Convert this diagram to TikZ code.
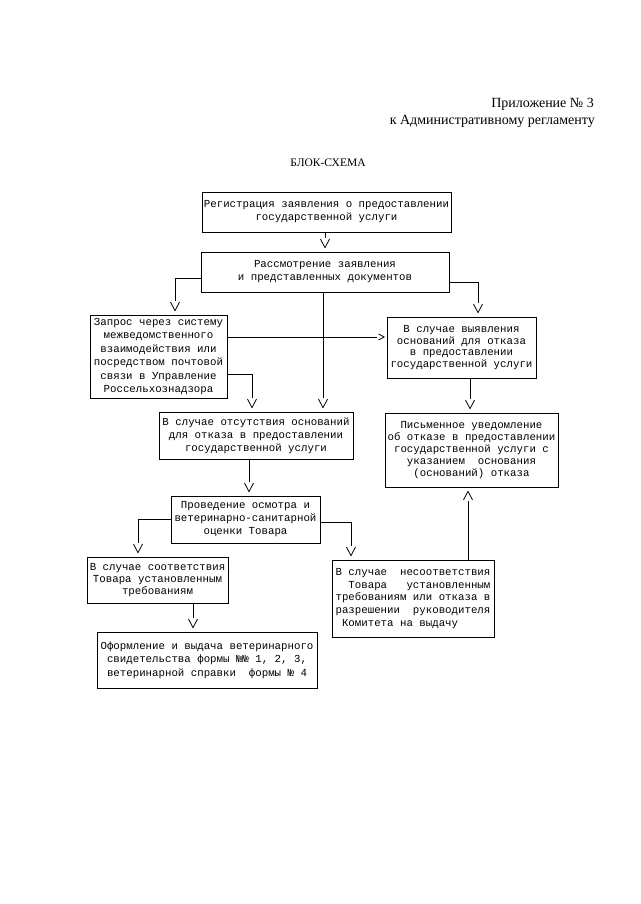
\documentclass[tikz,border=0pt]{standalone}
\usepackage{fontspec}
\setmainfont{Liberation Serif}
\newfontfamily\monof{Liberation Mono}
\usetikzlibrary{decorations.markings}
\tikzset{
  box/.style={draw, line width=0.8pt, inner sep=1.5pt, align=center,
    font=\monof\fontsize{10.75}{13}\selectfont},
  vv/.style={line width=0.8pt, shorten >=14pt,
    postaction={draw=none, decorate, decoration={markings, mark=at position 1 with
      {\draw[line width=0.8pt, shorten >=0pt] (-12.5pt,4.5pt) -- (-4pt,0pt) -- (-12.5pt,-4.5pt);}}}},
  hh/.style={line width=0.8pt, shorten >=10pt,
    postaction={draw=none, decorate, decoration={markings, mark=at position 1 with
      {\draw[line width=0.8pt, shorten >=0pt] (-8pt,3pt) -- (-2.5pt,0pt) -- (-8pt,-3pt);}}}},
  hdr/.style={inner sep=0pt, font=\fontsize{14}{16}\selectfont}
}
\begin{document}
\begin{tikzpicture}[x=1pt,y=-1pt]
\useasboundingbox (0,0) rectangle (640,904);
\fill[white] (0,0) rectangle (640,904);
% header
\node[hdr, anchor=base east] (h1) at (594,108) {Приложение № 3};
\node[hdr, anchor=base east] (h2) at (595,125) {к Административному регламенту};
\node[inner sep=0pt, font=\fontsize{11.5}{13}\selectfont] (title) at (328,163) {БЛОК-СХЕМА};
% boxes
\node[box, minimum width=249pt, minimum height=40pt] (b1) at (326.5,212)
  {Регистрация заявления о предоставлении\\государственной услуги};
\node[box, minimum width=248pt, minimum height=40pt] (b2) at (325,272)
  {Рассмотрение заявления\\и представленных документов};
\node[box, minimum width=137pt, minimum height=83pt, font=\monof\fontsize{10.75}{13.4}\selectfont] (b3) at (158.5,356.5)
  {Запрос через систему\\межведомственного\\взаимодействия или\\посредством почтовой\\связи в Управление\\Россельхознадзора};
\node[box, minimum width=149pt, minimum height=61pt, font=\monof\fontsize{10.75}{11.6}\selectfont] (b4) at (461.5,347.5)
  {В случае выявления\\оснований для отказа\\в предоставлении\\государственной услуги};
\node[box, minimum width=194pt, minimum height=47pt] (b5) at (256,435.5)
  {В случае отсутствия оснований\\для отказа в предоставлении\\государственной услуги};
\node[box, minimum width=173pt, minimum height=74pt, font=\monof\fontsize{10.75}{11.8}\selectfont] (b6) at (471.5,450)
  {Письменное уведомление\\об отказе в предоставлении\\государственной услуги с\\указанием~ основания\\(оснований) отказа};
\node[box, minimum width=149pt, minimum height=47pt] (b7) at (245.5,519.5)
  {Проведение осмотра и\\ветеринарно-санитарной\\оценки Товара};
\node[box, minimum width=141pt, minimum height=46pt, font=\monof\fontsize{10.75}{11.6}\selectfont] (b8) at (157.5,580)
  {В случае соответствия\\Товара установленным\\требованиям};
\node[box, align=left, minimum width=162pt, minimum height=77pt, font=\monof\fontsize{10.75}{12.9}\selectfont] (b9) at (413,598.5)
  {В случае~~несоответствия\\~~Товара~~~установленным\\требованиям или отказа в\\разрешении~~руководителя\\~Комитета на выдачу};
\node[box, minimum width=220pt, minimum height=56pt, font=\monof\fontsize{10.75}{13.5}\selectfont] (b10) at (207,660)
  {Оформление и выдача ветеринарного\\свидетельства формы №№ 1, 2, 3,\\ветеринарной справки~ формы № 4};
% connectors
\draw[vv] (b1.south -| 325,0) -- (b2.north -| 325,0);
\draw[vv] (b2.west |- 0,278) -| (b3.north -| 175,0);
\draw[vv] (b2.east |- 0,282) -| (b4.north -| 478,0);
\draw[vv] (b2.south -| 323,0) -- (b5.north -| 323,0);
\draw[hh] (b3.east |- 0,337) -- (b4.west |- 0,337);
\draw[vv] (b3.east |- 0,374) -| (b5.north -| 252,0);
\draw[vv] (b4.south -| 470,0) -- (b6.north -| 470,0);
\draw[vv] (b5.south -| 249,0) -- (b7.north -| 249,0);
\draw[vv] (b7.west |- 0,519) -| (b8.north -| 138,0);
\draw[vv] (b7.east |- 0,522) -| (b9.north -| 351,0);
\draw[vv] (b9.north -| 468,0) -- (b6.south -| 468,0);
\draw[vv] (b8.south -| 193,0) -- (b10.north -| 193,0);
\end{tikzpicture}
\end{document}
